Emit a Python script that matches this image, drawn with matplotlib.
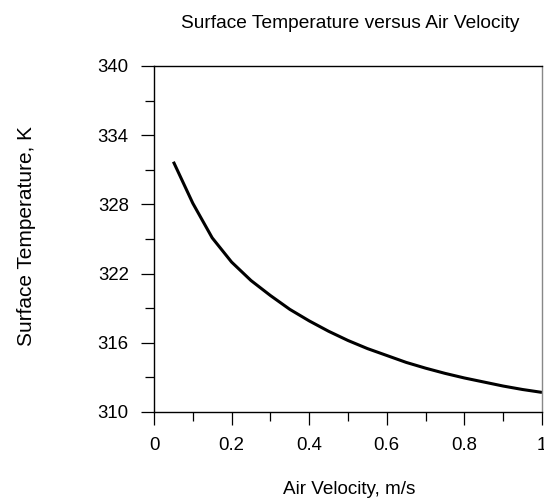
import matplotlib
matplotlib.use("Agg")
import matplotlib.pyplot as plt

# values
velocity = [0.05, 0.10, 0.15, 0.20, 0.25, 0.30, 0.35, 0.40, 0.45, 0.50,
            0.55, 0.60, 0.65, 0.70, 0.75, 0.80, 0.85, 0.90, 0.95, 1.00]
temperature = [331.7, 328.1, 325.1, 323.0, 321.4, 320.1, 318.9, 317.9, 317.0, 316.2,
               315.5, 314.9, 314.3, 313.8, 313.35, 312.95, 312.6, 312.25, 311.95, 311.7]
x_ticks = [0, 0.2, 0.4, 0.6, 0.8, 1]
x_tick_labels = ["0", "0.2", "0.4", "0.6", "0.8", "1"]
x_minor = [0.1, 0.3, 0.5, 0.7, 0.9]
y_ticks = [310, 316, 322, 328, 334, 340]
y_minor = [313, 319, 325, 331, 337]

plt.rcParams["font.family"] = ["Liberation Sans", "DejaVu Sans"]

fig = plt.figure(figsize=(5.44, 4.99), dpi=100)
ax = fig.add_axes([154 / 544, 1 - 412 / 499, 388 / 544, 346 / 499])

ax.plot(velocity, temperature, color="black", lw=2.2,
        solid_capstyle="butt", solid_joinstyle="round")

ax.set_xlim(0, 1)
ax.set_ylim(310, 340)
ax.set_xticks(x_ticks)
ax.set_xticklabels(x_tick_labels)
ax.set_xticks(x_minor, minor=True)
ax.set_yticks(y_ticks)
ax.set_yticks(y_minor, minor=True)
ax.tick_params(which="major", direction="out", length=9.2, width=0.9, labelsize=13.4, pad=9)
ax.tick_params(which="minor", direction="out", length=6.5, width=0.9)
for side in ["left", "bottom", "top"]:
    ax.spines[side].set_linewidth(1.0)
ax.spines["right"].set_linewidth(1.0)
ax.spines["right"].set_color("#888888")

fig.text(350 / 544, 1 - 28 / 499, "Surface Temperature versus Air Velocity",
         ha="center", va="baseline", fontsize=13.8)
fig.text(349 / 544, 1 - 494 / 499, "Air Velocity, m/s",
         ha="center", va="baseline", fontsize=13.6)
fig.text(27 / 544, 1 - 236 / 499, "Surface Temperature, K",
         ha="center", va="center", rotation=90, fontsize=15)

fig.savefig("out.png", dpi=100)
